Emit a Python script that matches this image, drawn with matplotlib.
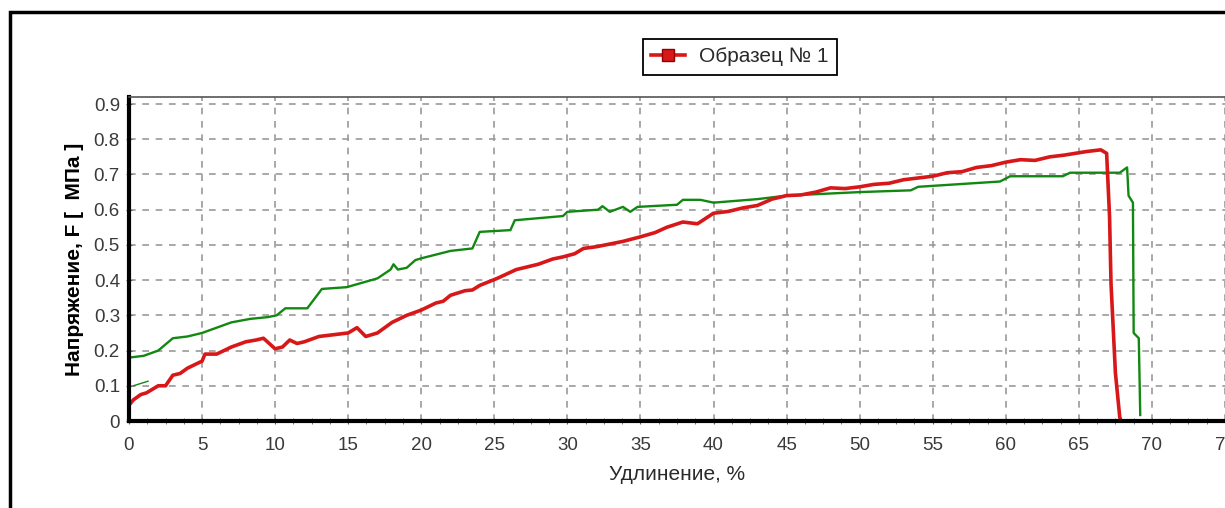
import matplotlib
matplotlib.use("Agg")
import matplotlib.pyplot as plt
from matplotlib.ticker import MultipleLocator
from matplotlib.patches import Rectangle

# Образец № 1 (красная кривая)
red_x = [0, 0.3, 0.8, 1.2, 2, 2.5, 3, 3.5, 4, 4.5, 5, 5.2, 6, 7, 8, 8.7, 9.2, 9.6,
         10, 10.5, 11, 11.5, 12, 13, 14, 15, 15.6, 16.2, 17, 18, 19, 20, 21, 21.5,
         22, 23, 23.5, 24, 25.2, 26.5, 27.5, 28, 29, 29.7, 30.5, 31.1, 32, 33.8, 35,
         36, 36.8, 37.9, 38.9, 40, 41, 42, 43, 44, 45, 46, 47, 48, 49, 50, 51, 52,
         53, 55, 56, 57, 58, 59, 60, 61, 62, 63, 64, 65.5, 66.5, 66.9, 67.1, 67.2,
         67.5, 67.8, 67.9]
red_y = [0.045, 0.06, 0.075, 0.08, 0.1, 0.1, 0.13, 0.135, 0.15, 0.16, 0.17, 0.19,
         0.19, 0.21, 0.225, 0.23, 0.235, 0.22, 0.205, 0.21, 0.23, 0.22, 0.225, 0.24,
         0.245, 0.25, 0.265, 0.24, 0.25, 0.28, 0.3, 0.315, 0.335, 0.34, 0.357,
         0.37, 0.372, 0.385, 0.405, 0.43, 0.44, 0.445, 0.46, 0.466, 0.475, 0.49,
         0.495, 0.51, 0.523, 0.535, 0.55, 0.565, 0.56, 0.59, 0.595, 0.605, 0.612,
         0.63, 0.64, 0.642, 0.65, 0.662, 0.66, 0.665, 0.672, 0.675, 0.685, 0.695,
         0.705, 0.708, 0.72, 0.725, 0.735, 0.742, 0.74, 0.75, 0.755, 0.765, 0.77,
         0.76, 0.58, 0.39, 0.137, 0.01, 0]

# второй образец (зелёная кривая)
green_x = [0, 1, 2, 3, 4, 5, 6, 7, 8.3, 9.5, 10.1, 10.7, 12.2, 13.2, 14.9, 17, 17.9,
           18.1, 18.4, 19, 19.6, 20.1, 22, 23.5, 24, 26.1, 26.4, 29.7, 30, 32.1, 32.4,
           32.9, 33.8, 34.3, 34.8, 37.5, 37.9, 39.1, 40, 43, 45, 50, 53.5, 54, 59.6,
           60.3, 63.9, 64.4, 67.8, 68.3, 68.4, 68.7, 68.75, 69.1, 69.2]
green_y = [0.18, 0.185, 0.2, 0.235, 0.24, 0.25, 0.265, 0.28, 0.29, 0.295, 0.30, 0.32,
           0.32, 0.375, 0.38, 0.405, 0.43, 0.445, 0.43, 0.435, 0.457, 0.463, 0.483,
           0.49, 0.537, 0.542, 0.57, 0.582, 0.594, 0.60, 0.61, 0.594, 0.608, 0.594,
           0.608, 0.614, 0.628, 0.628, 0.62, 0.63, 0.64, 0.65, 0.655, 0.665, 0.68,
           0.695, 0.695, 0.705, 0.705, 0.72, 0.64, 0.62, 0.25, 0.235, 0.017]

# маленький зелёный штрих у начала
tick_x = [0.3, 1.3]
tick_y = [0.1, 0.113]

x_ticks = list(range(0, 80, 5))
y_ticks = [0, 0.1, 0.2, 0.3, 0.4, 0.5, 0.6, 0.7, 0.8, 0.9]
y_labels = ["0", "0.1", "0.2", "0.3", "0.4", "0.5", "0.6", "0.7", "0.8", "0.9"]

plt.rcParams['font.family'] = ['Liberation Sans', 'DejaVu Sans']

fig = plt.figure(figsize=(12.25, 5.08), dpi=100)
ax = fig.add_axes([129 / 1225, 87 / 508, 1 - 129 / 1225, (421 - 97) / 508])

# рамка вокруг картинки
fig.patches.append(Rectangle((10 / 1225, -0.1), 1.2, 1 - 12 / 508 + 0.1,
                             transform=fig.transFigure, fill=False,
                             edgecolor='black', linewidth=2.5))

ax.grid(True, which='major', color='#9a9a9a', linestyle=(0, (4, 4)), linewidth=1.2)
ax.set_axisbelow(True)

ax.plot(green_x, green_y, color='#118811', linewidth=1.7, label='_nolegend_')
ax.plot(tick_x, tick_y, color='#118811', linewidth=1, label='_nolegend_')
ax.plot(red_x, red_y, color='#d81818', linewidth=2.6, label='Образец № 1')

ax.set_xlim(0, 75)
ax.set_ylim(0, 0.92)
ax.set_xticks(x_ticks)
ax.set_yticks(y_ticks)
ax.set_yticklabels(y_labels)
ax.xaxis.set_minor_locator(MultipleLocator(1.25))

for s in ['left', 'bottom']:
    ax.spines[s].set_linewidth(3)
    ax.spines[s].set_color('black')
ax.spines['top'].set_color('#555555')
ax.spines['top'].set_linewidth(1.2)
ax.spines['right'].set_visible(False)

ax.tick_params(axis='both', which='major', labelsize=13.5, labelcolor='#3a3a3a',
               color='#666666', length=5, direction='inout')
ax.tick_params(axis='y', which='major', pad=4)
ax.tick_params(axis='x', which='major', pad=9)
ax.tick_params(axis='x', which='minor', length=4, color='#666666', direction='inout')

ax.set_xlabel('Удлинение, %', fontsize=15, color='#2a2a2a', labelpad=8)
ax.set_ylabel('Напряжение, F [  МПа ]', fontsize=15, fontweight='bold', labelpad=7)

leg = fig.legend(handles=[ax.lines[-1]], loc='center',
                 bbox_to_anchor=(740 / 1225, 1 - 57 / 508), fontsize=15,
                 fancybox=False, framealpha=1, edgecolor='black',
                 handlelength=1.6, handletextpad=0.7, borderpad=0.4)
leg.get_frame().set_linewidth(1.3)
for t in leg.get_texts():
    t.set_color('#2a2a2a')
leg.legend_handles[0].set_marker('s')
leg.legend_handles[0].set_markersize(8)
leg.legend_handles[0].set_markeredgecolor('#900000')

fig.savefig('out.png', dpi=100)
